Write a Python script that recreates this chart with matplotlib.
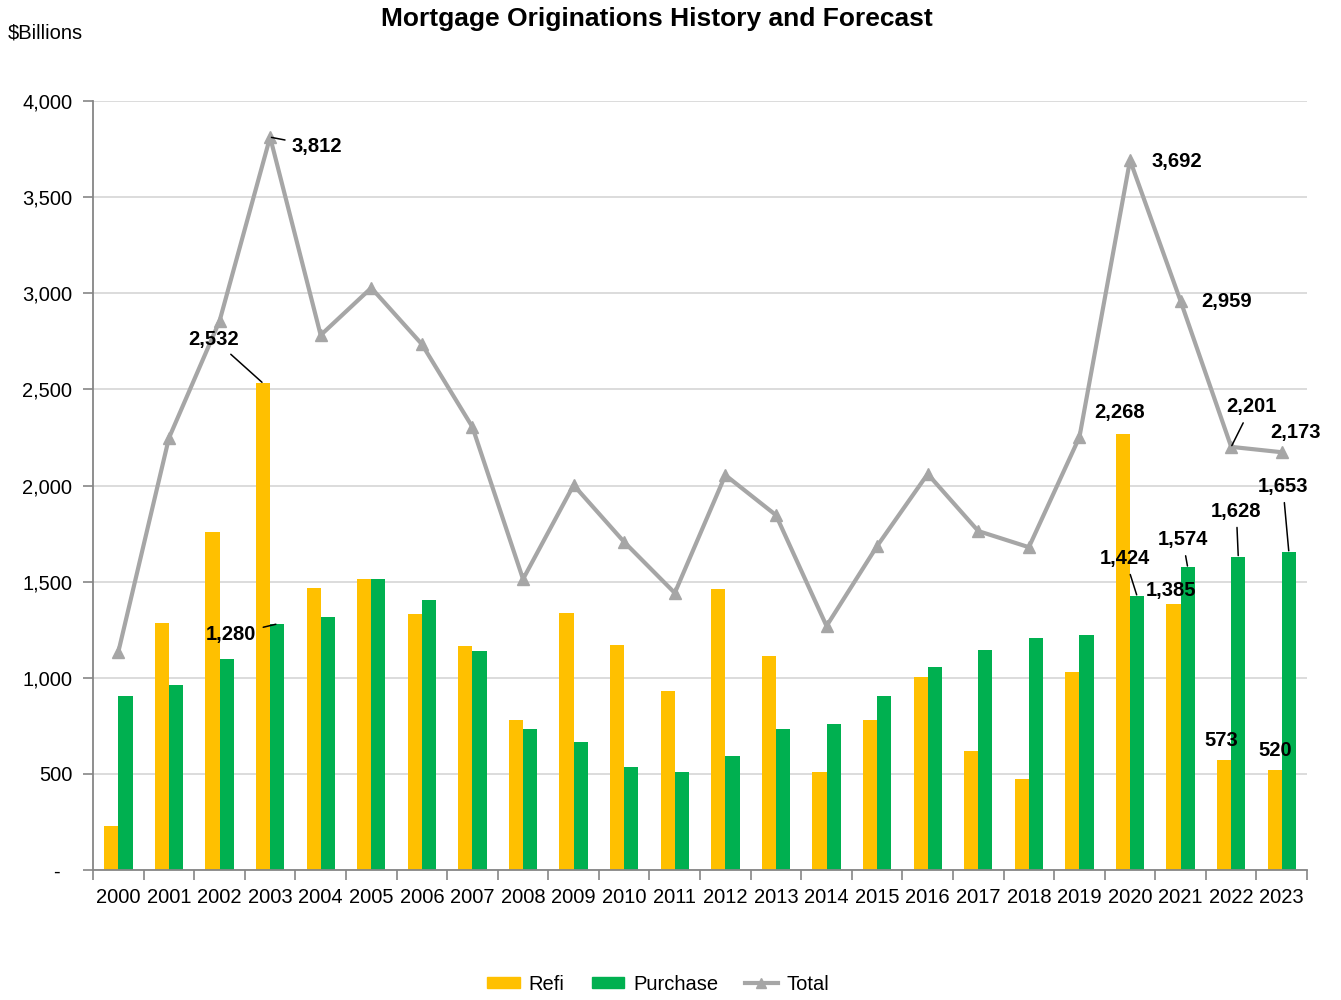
import numpy as np
import matplotlib.pyplot as plt
from matplotlib.patches import Patch
from matplotlib.lines import Line2D
from matplotlib.ticker import FuncFormatter, MultipleLocator, FixedLocator

plt.rcParams['font.family'] = ['Liberation Sans', 'DejaVu Sans']

# ---- data ($ billions) ----
years    = [str(y) for y in range(2000, 2024)]
refi     = [230, 1285, 1758, 2532, 1466, 1515, 1331, 1165, 780, 1336, 1170, 931,
            1461, 1113, 510, 780, 1004, 619, 473, 1030, 2268, 1385, 573, 520]
purchase = [905, 962, 1097, 1280, 1316, 1513, 1404, 1139, 733, 666, 536, 510,
            593, 733, 759, 905, 1056, 1144, 1206, 1222, 1424, 1574, 1628, 1653]
total    = [1135, 2247, 2855, 3812, 2782, 3028, 2735, 2304, 1513, 2002, 1706, 1441,
            2054, 1846, 1269, 1685, 2060, 1763, 1679, 2252, 3692, 2959, 2201, 2173]

REFI_C  = '#FFC000'
PURCH_C = '#00B050'
TOTAL_C = '#A6A6A6'

x = np.arange(len(years))
bw = 0.28

fig = plt.figure(figsize=(13.41, 10), dpi=100)
ax = fig.add_axes([0.0694, 0.13, 0.9053, 0.769])

ax.bar(x - bw / 2, refi, width=bw, color=REFI_C, zorder=2)
ax.bar(x + bw / 2, purchase, width=bw, color=PURCH_C, zorder=2)
ax.plot(x, total, color=TOTAL_C, lw=3.0, marker='^', markersize=9,
        markerfacecolor=TOTAL_C, markeredgecolor=TOTAL_C, zorder=3)

ax.set_xlim(-0.5, len(years) - 0.5)
ax.set_ylim(0, 4000)
ax.yaxis.set_major_locator(MultipleLocator(500))
ax.yaxis.set_major_formatter(FuncFormatter(lambda v, p: '-  ' if v == 0 else f'{v:,.0f}'))
ax.grid(axis='y', color='#D9D9D9', lw=1.3, zorder=0)
ax.set_axisbelow(True)

ax.set_xticks(x)
ax.set_xticklabels(years)
ax.xaxis.set_minor_locator(FixedLocator(np.arange(-0.5, len(years), 1.0)))
ax.tick_params(axis='x', which='major', length=0, labelsize=14.5, pad=13)
ax.tick_params(axis='x', which='minor', length=7, width=1.2, color='#868686')
ax.tick_params(axis='y', length=7, width=1.2, color='#868686', labelsize=14.5, pad=8)

for side in ['top', 'right']:
    ax.spines[side].set_visible(False)
for side in ['left', 'bottom']:
    ax.spines[side].set_color('#868686')
    ax.spines[side].set_linewidth(1.3)

# -- data labels: (series, index, text offset px, leader line?) --------------
lab_kw = dict(fontsize=14.5, fontweight='bold', ha='center', va='center',
              textcoords='offset pixels', zorder=5)
leader = dict(arrowstyle='-', color='black', lw=1.1, shrinkA=3, shrinkB=1)

labels = [
    ('total', 3, (47, -9), True),
    ('refi', 3, (-49, 44), True),
    ('purchase', 3, (-46, -11), True),
    ('refi', 20, (-3, 21), False),
    ('purchase', 20, (-12, 38), True),
    ('refi', 21, (-3, 13), False),
    ('purchase', 21, (-5, 28), True),
    ('purchase', 22, (-2, 46), True),
    ('purchase', 23, (-6, 66), True),
    ('refi', 22, (-3, 19), False),
    ('refi', 23, (1, 20), False),
    ('total', 20, (47, -1), False),
    ('total', 21, (46, 0), False),
    ('total', 22, (20, 40), True),
    ('total', 23, (14, 20), False),
]
series = {'refi': (refi, -bw / 2), 'purchase': (purchase, bw / 2), 'total': (total, 0)}
for name, i, off, has_line in labels:
    vals, dx = series[name]
    ax.annotate(f'{vals[i]:,}', xy=(i + dx, vals[i]), xytext=off,
                arrowprops=leader if has_line else None, **lab_kw)

fig.text(0.49, 0.981, 'Mortgage Originations History and Forecast',
         fontsize=19, fontweight='bold', ha='center', va='center')
fig.text(0.006, 0.967, '$Billions', fontsize=14.5, ha='left', va='center')

handles = [Patch(color=REFI_C, label='Refi'),
           Patch(color=PURCH_C, label='Purchase'),
           Line2D([], [], color=TOTAL_C, lw=3.0, marker='^', markersize=7, label='Total')]
fig.legend(handles=handles, loc='center', bbox_to_anchor=(0.491, 0.016), ncol=3,
           frameon=False, fontsize=14.5, handlelength=1.6, handleheight=0.5,
           columnspacing=1.35, handletextpad=0.45)

fig.savefig('out.png', dpi=100)
